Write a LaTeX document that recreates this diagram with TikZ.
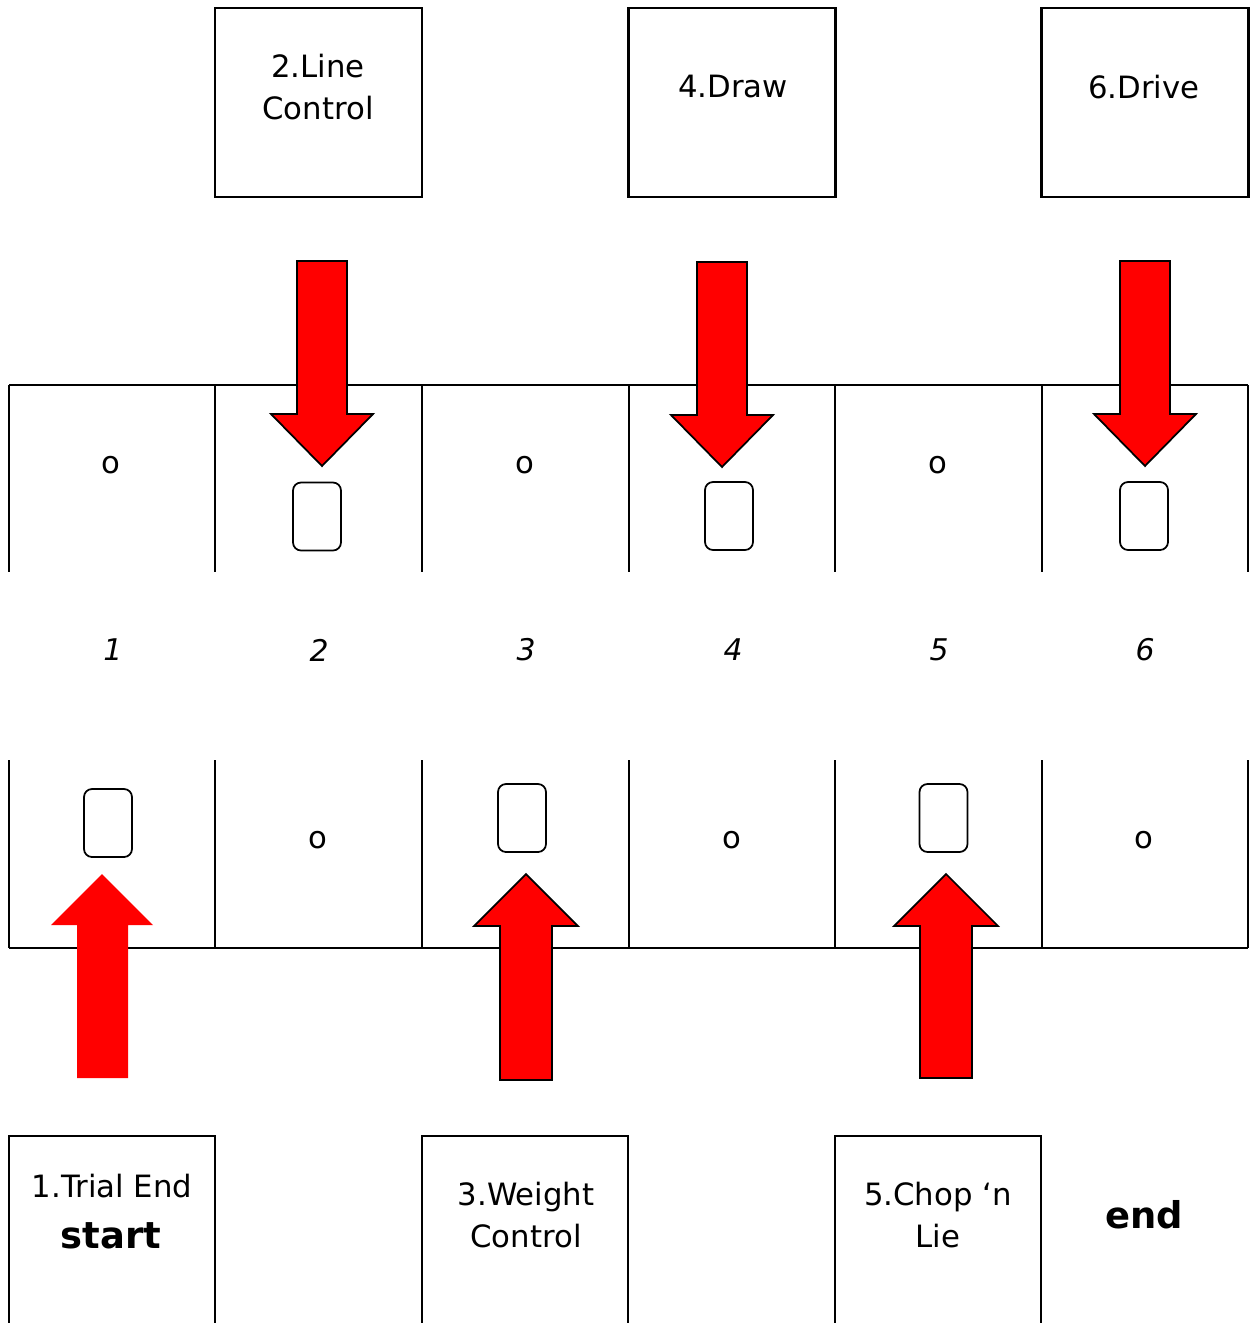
\documentclass[tikz,border=0pt]{standalone}
\usepackage{fontspec}
\setmainfont{DejaVu Sans}
\usetikzlibrary{positioning}

\tikzset{
  box/.style={draw, line width=1.4pt, minimum width=4.14cm, minimum height=3.78cm, inner sep=0pt},
  card/.style={draw, line width=1pt, rounded corners=0.16cm, minimum width=0.96cm, minimum height=1.36cm, inner sep=0pt},
  lbl/.style={align=center, inner sep=0pt, font=\fontsize{17.5}{24.4}\selectfont},
  big/.style={inner sep=0pt, font=\fontsize{21}{24}\selectfont\bfseries},
  num/.style={inner sep=0pt, font=\fontsize{17}{20}\selectfont\itshape},
  grid/.style={line width=1.4pt},
  arr/.style={fill=red, draw=black, line width=1pt, line join=miter}
}

\begin{document}
\begin{tikzpicture}[x=0.02cm, y=-0.02cm]
  \useasboundingbox (0,0) rectangle (1252,1323);

  % top boxes
  \node[box] (top2) at (318.5,102.5) {};
  \node[box] (top4) at (732,102.5) {};
  \node[box] (top6) at (1145,102.5) {};
  \node[lbl] (t2) at (318,87) {2.Line\\Control};
  \node[lbl] (t4) at (733,87) {4.Draw};
  \node[lbl] (t6) at (1144,87) {6.Drive};

  % board
  \draw[grid] (9,385) -- (1248,385);
  \draw[grid] (9,948) -- (1248,948);
  \foreach \x in {9,215,422,629,835,1042,1248} {
    \draw[grid] (\x,385) -- (\x,572);
    \draw[grid] (\x,760) -- (\x,948);
  }

  % bottom boxes
  \foreach \x in {9,422,835}
    \draw[grid] (\x,1340) |- (\x+206,1136) -- (\x+206,1340);
  \node[lbl] (b1) at (112,1186) {1.Trial End};
  \node[big] (start) at (111,1236) {start};
  \node[lbl] (b3) at (526,1215) {3.Weight\\Control};
  \node[lbl] (b5) at (938,1215) {5.Chop ‘n\\Lie};
  \node[big] (end) at (1144,1215) {end};

  % marks in the board
  \node[lbl] (o1) at (111,465) {o};
  \node[lbl] (o3) at (525,465) {o};
  \node[lbl] (o5) at (938,465) {o};
  \node[lbl] (o2) at (318,840) {o};
  \node[lbl] (o4) at (732,840) {o};
  \node[lbl] (o6) at (1144,840) {o};
  \node[card] (c2) at (317,516.5) {};
  \node[card] (c4) at (729,516) {};
  \node[card] (c6) at (1144,516) {};
  \node[card] (c1) at (108,823) {};
  \node[card] (c3) at (522,818) {};
  \node[card] (c5) at (943.5,818) {};

  % numbers
  \foreach \x/\n in {113/1, 319/2, 526/3, 733/4, 939/5, 1145/6}
    \node[num] (n\n) at (\x,650) {\n};

  % arrows
  \foreach \c/\t in {322/261, 722/262, 1145/261}
    \draw[arr] (\c-25,\t) -- (\c+25,\t) -- (\c+25,\t+153) -- (\c+51,\t+153)
      -- (\c,\t+205) -- (\c-51,\t+153) -- (\c-25,\t+153) -- cycle;
  \fill[red] (77,1078) -- (77,925) -- (51,925) -- (102,874) -- (153,925)
    -- (128,925) -- (128,1078) -- cycle;
  \foreach \c/\b in {526/1080, 946/1078}
    \draw[arr] (\c-26,\b) -- (\c-26,926) -- (\c-52,926) -- (\c,874)
      -- (\c+52,926) -- (\c+26,926) -- (\c+26,\b) -- cycle;
\end{tikzpicture}
\end{document}
